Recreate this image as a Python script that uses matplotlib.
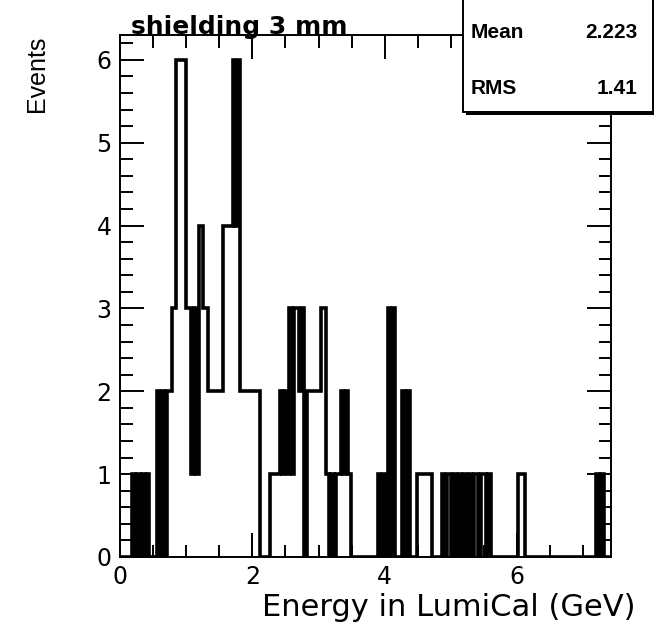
import numpy as np
import matplotlib
matplotlib.use("Agg")
import matplotlib.pyplot as plt
from matplotlib.patches import Rectangle

plt.rcParams['font.family'] = ['Liberation Sans', 'DejaVu Sans']

# histogram: 200 bins between 0 and 7.42 GeV, counts
x_min, x_max, n_bins = 0.0, 7.42, 200
nonzero_bins = {
    5: 1, 7: 1, 9: 1, 11: 1,
    15: 2, 17: 2, 19: 2, 20: 2, 21: 3, 22: 3,
    23: 6, 24: 6, 25: 6, 26: 6, 27: 3, 28: 3,
    29: 1, 30: 3, 31: 1, 32: 4, 33: 4, 34: 3, 35: 3,
    36: 2, 37: 2, 38: 2, 39: 2, 40: 2, 41: 2,
    42: 4, 43: 4, 44: 4, 45: 4, 46: 6, 47: 4, 48: 6,
    49: 2, 50: 2, 51: 2, 52: 2, 53: 2, 54: 2, 55: 2, 56: 2,
    61: 1, 62: 1, 63: 1, 64: 1, 65: 2, 66: 1, 67: 2, 68: 1,
    69: 3, 70: 1, 71: 3, 72: 3, 73: 2, 74: 3,
    76: 2, 77: 2, 78: 2, 79: 2, 80: 2, 81: 2, 82: 3, 83: 3,
    84: 1, 86: 1, 88: 1, 89: 1, 90: 2, 91: 1, 92: 2, 93: 1,
    105: 1, 107: 1, 109: 3, 111: 3, 115: 2, 117: 2,
    121: 1, 122: 1, 123: 1, 124: 1, 125: 1, 126: 1,
    131: 1, 133: 1, 134: 1, 136: 1, 138: 1, 140: 1, 142: 1,
    144: 1, 145: 1, 147: 1, 148: 1, 150: 1,
    162: 1, 163: 1, 164: 1,
    194: 1, 196: 1,
}
stat_names = ["Mean", "RMS"]
stat_values = ["2.223", "1.41"]

counts = np.zeros(n_bins)
for b, c in nonzero_bins.items():
    counts[b] = c
edges = np.linspace(x_min, x_max, n_bins + 1)

W, H = 654, 638
fig = plt.figure(figsize=(W / 100, H / 100), dpi=100)
ax = fig.add_axes([120 / W, 1 - 557 / H, 491 / W, 522 / H])

ax.stairs(counts, edges, color='black', linewidth=2.6, joinstyle='miter')

ax.set_xlim(x_min, x_max)
ax.set_ylim(0, 6.3)
ax.set_xticks([0, 2, 4, 6])
ax.set_xticks(np.arange(0, 7.5, 0.5), minor=True)
ax.set_yticks(range(0, 7))
ax.set_yticks(np.arange(0, 6.3, 0.2), minor=True)
ax.tick_params(which='both', direction='in', top=True, right=True, width=1.4, labelsize=17)
ax.tick_params(which='major', length=17)
ax.tick_params(which='minor', length=9)
ax.tick_params(axis='x', pad=6)
ax.tick_params(axis='y', pad=6)
for lab in ax.get_xticklabels() + ax.get_yticklabels():
    lab.set_family('DejaVu Sans')
for s in ax.spines.values():
    s.set_linewidth(1.4)

fig.text(636 / W, 1 - 608 / H, "Energy in LumiCal (GeV)", ha='right', va='center', fontsize=22,
         family='DejaVu Sans')
fig.text(37 / W, 1 - 36 / H, "Events", ha='center', va='top', rotation=90, fontsize=18)
fig.text(131 / W, 1 - 34 / H, "shielding 3 mm", ha='left', va='baseline', fontsize=18,
         weight='bold', family='DejaVu Sans')

# stats box with shadow
fig.patches.append(Rectangle((466 / W, 1 - 115 / H), 190 / W, 116 / H, transform=fig.transFigure,
                             facecolor='black', edgecolor='none', zorder=5))
fig.patches.append(Rectangle((463 / W, 1 - 112 / H), 190 / W, 115 / H, transform=fig.transFigure,
                             facecolor='white', edgecolor='black', linewidth=1.4, zorder=6))
for i, (n, v) in enumerate(zip(stat_names, stat_values)):
    y = 1 - (33 + 55 * i) / H
    fig.text(471 / W, y, n, ha='left', va='center', fontsize=15, weight='bold', zorder=7)
    fig.text(638 / W, y, v, ha='right', va='center', fontsize=15, weight='bold', zorder=7)

fig.savefig("out.png", dpi=100)
